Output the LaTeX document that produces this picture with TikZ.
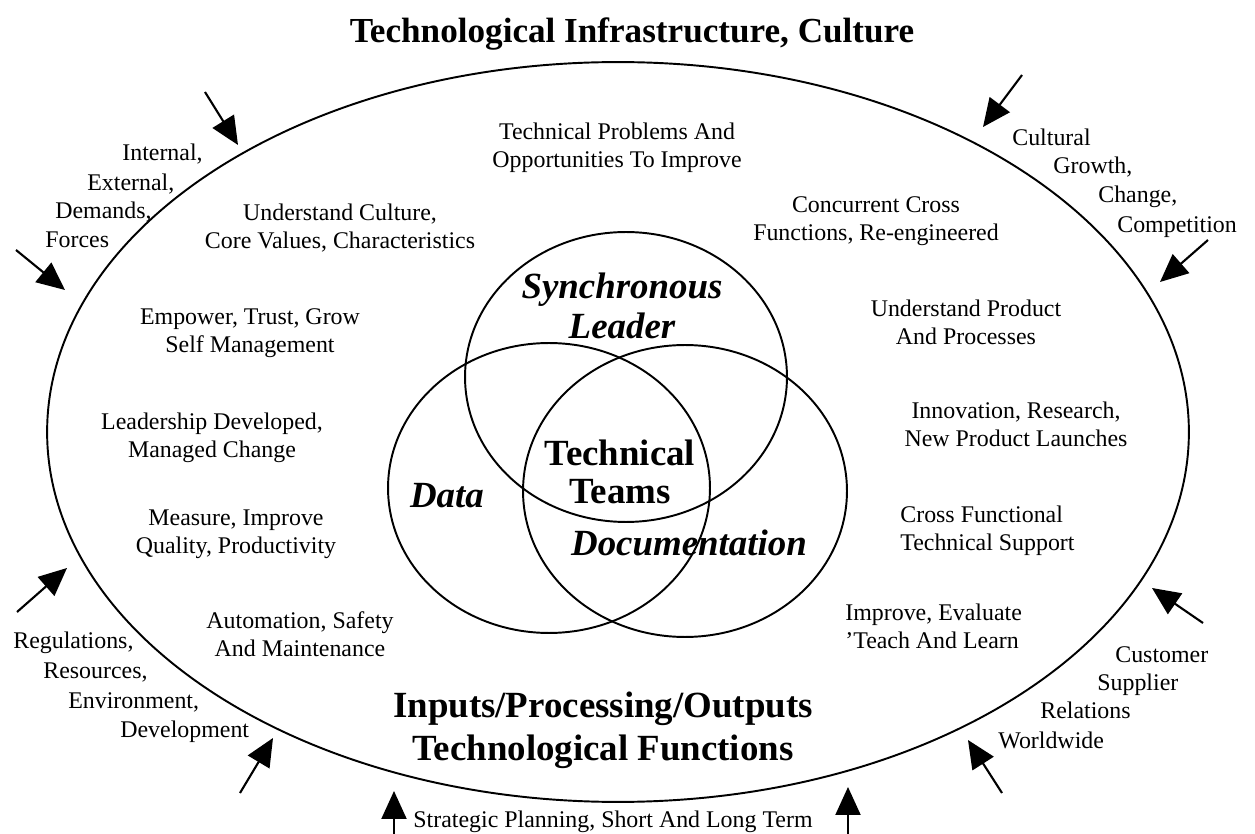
\documentclass[tikz,border=0pt]{standalone}
\usepackage{fontspec}
\setmainfont{Liberation Serif}
\usetikzlibrary{arrows.meta}
\tikzset{
  note/.style    = {font=\fontsize{13.6}{15.8}\selectfont, align=center, inner sep=0pt},
  force/.style   = {note, anchor=west, text height=9pt, text depth=3pt},
  heading/.style = {font=\fontsize{21}{24.4}\selectfont\bfseries, align=center, inner sep=0pt},
  sphere/.style  = {font=\fontsize{21}{22.7}\selectfont\bfseries\itshape, align=center, inner sep=0pt},
  ring/.style    = {draw, line width=1.1pt},
  push/.style    = {-{Triangle[length=0.56cm,width=0.5cm]}, line width=1.2pt}
}

\begin{document}
\begin{tikzpicture}[x=0.02cm, y=-0.02cm]
\useasboundingbox (0,0) rectangle (1255,834);

% outer boundary and the three spheres
\draw[ring] (618,432) ellipse [x radius=11.42cm, y radius=7.4cm];
\draw[ring] (626,377) ellipse [x radius=3.22cm, y radius=2.9cm];
\draw[ring] (549,488) ellipse [x radius=3.22cm, y radius=2.9cm];
\draw[ring] (685,491) ellipse [x radius=3.24cm, y radius=2.92cm];

% titles
\node[heading, font=\fontsize{20}{24}\selectfont\bfseries] (infra) at (632,34) {Technological Infrastructure, Culture};
\node[heading] (funcs) at (603,730) {Inputs/Processing/Outputs\\Technological Functions};

% spheres
\node[sphere] (leader) at (622,306) {Synchronous\\Leader};
\node[sphere] (data) at (447,496) {Data};
\node[sphere] (docs) at (689,543) {Documentation};
\node[heading, font=\fontsize{21}{21.5}\selectfont\bfseries] (teams) at (620,472) {Technical\\Teams};

% inside the boundary, left side
\node[note] (culture) at (340,228) {Understand Culture,\\Core Values, Characteristics};
\node[note] (empower) at (250,333) {Empower, Trust, Grow\\Self Management};
\node[note] (develop) at (212,438) {Leadership Developed,\\Managed Change};
\node[note] (measure) at (236,534) {Measure, Improve\\Quality, Productivity};
\node[note] (safety) at (300,634) {Automation, Safety\\And Maintenance};

% inside the boundary, top and right side
\node[note] (problems) at (617,148) {Technical Problems And\\Opportunities To Improve};
\node[note] (concur) at (876,221) {Concurrent Cross\\Functions, Re-engineered};
\node[note] (product) at (966,322) {Understand Product\\And Processes};
\node[note] (innov) at (1016,424) {Innovation, Research,\\New Product Launches};
\node[note, align=left, anchor=west] (support) at (900,531) {Cross Functional\\Technical Support};
\node[note, align=left, anchor=west] (learn) at (845,626) {Improve, Evaluate\\'Teach And Learn};

% forces outside the boundary
\node[force] (dem1) at (122,155) {Internal,};
\node[force] (dem2) at (87,185) {External,};
\node[force] (dem3) at (55,213) {Demands,};
\node[force] (dem4) at (45,242) {Forces};

\node[force] (cul1) at (1012,140) {Cultural};
\node[force] (cul2) at (1053,168) {Growth,};
\node[force] (cul3) at (1098,197) {Change,};
\node[force] (cul4) at (1117,227) {Competition};

\node[force] (reg1) at (13,643) {Regulations,};
\node[force] (reg2) at (43,673) {Resources,};
\node[force] (reg3) at (68,703) {Environment,};
\node[force] (reg4) at (120,732) {Development};

\node[force] (cus1) at (1115,657) {Customer};
\node[force] (cus2) at (1097,685) {Supplier};
\node[force] (cus3) at (1040,713) {Relations};
\node[force] (cus4) at (998,743) {Worldwide};

\node[note] (plan) at (613,822) {Strategic Planning, Short And Long Term};

% arrows pushing on the boundary
\coordinate (p1) at (205,92);   \coordinate (q1) at (238,145);
\coordinate (p2) at (16,250);   \coordinate (q2) at (65,290);
\coordinate (p3) at (1022,75);  \coordinate (q3) at (983,127);
\coordinate (p4) at (1208,240); \coordinate (q4) at (1160,282);
\coordinate (p5) at (17,612);   \coordinate (q5) at (67,568);
\coordinate (p6) at (240,793);  \coordinate (q6) at (273,738);
\coordinate (p7) at (394,834);  \coordinate (q7) at (394,791);
\coordinate (p8) at (848,834);  \coordinate (q8) at (848,787);
\coordinate (p9) at (1002,793); \coordinate (q9) at (968,740);
\coordinate (p10) at (1203,623); \coordinate (q10) at (1152,588);

\draw[push] (p1) -- (q1);
\draw[push] (p2) -- (q2);
\draw[push] (p3) -- (q3);
\draw[push] (p4) -- (q4);
\draw[push] (p5) -- (q5);
\draw[push] (p6) -- (q6);
\draw[push] (p7) -- (q7);
\draw[push] (p8) -- (q8);
\draw[push] (p9) -- (q9);
\draw[push] (p10) -- (q10);

\end{tikzpicture}
\end{document}
